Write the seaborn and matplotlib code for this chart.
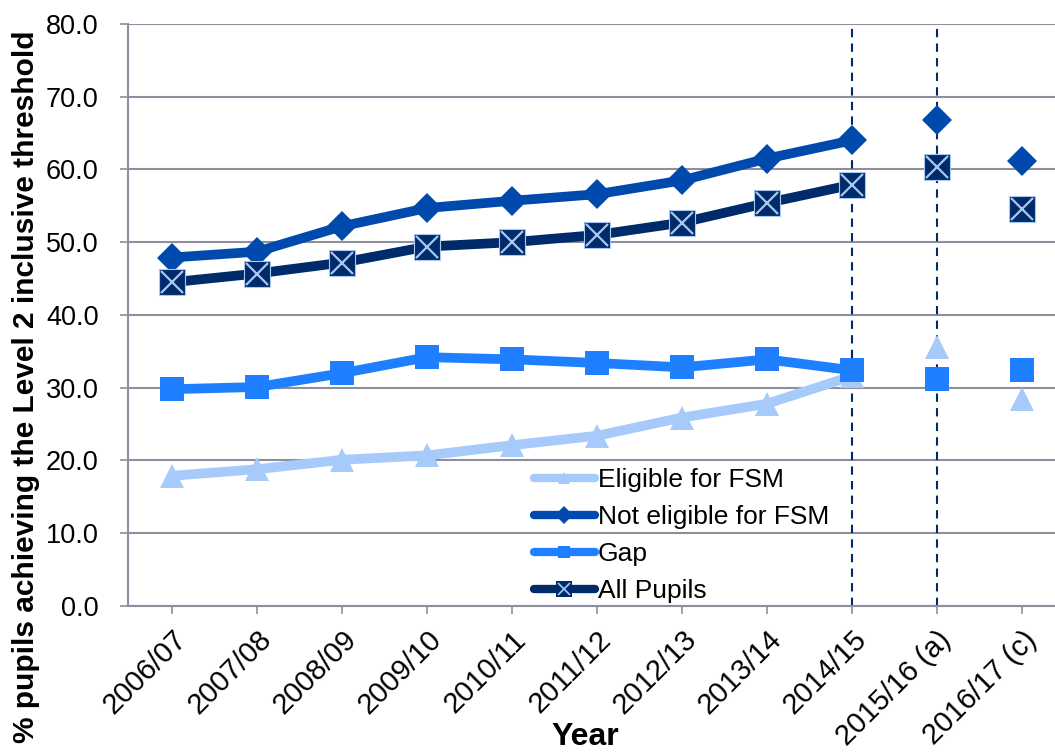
import matplotlib
matplotlib.use("Agg")
import matplotlib.pyplot as plt
import seaborn as sns
import pandas as pd
import numpy as np
from matplotlib.lines import Line2D
from matplotlib.legend_handler import HandlerTuple

years = ["2006/07", "2007/08", "2008/09", "2009/10", "2010/11", "2011/12",
         "2012/13", "2013/14", "2014/15", "2015/16 (a)", "2016/17 (c)"]
eligible = [17.9, 18.8, 20.1, 20.7, 22.1, 23.4, 25.9, 27.8, 31.6, 35.6, 28.5]
not_eligible = [47.9, 48.7, 52.2, 54.7, 55.7, 56.6, 58.5, 61.5, 64.0, 66.8, 61.1]
gap = [29.8, 30.1, 32.0, 34.2, 33.9, 33.4, 32.8, 33.9, 32.4, 31.2, 32.5]
all_pupils = [44.5, 45.7, 47.2, 49.4, 50.0, 51.0, 52.7, 55.4, 57.9, 60.4, 54.6]
n_joined = 9  # first nine years are joined by a line

C_EL = "#A6CBFA"
C_NE = "#004AAD"
C_GAP = "#1F80FF"
C_ALL = "#002B6B"
C_X = "#A9C8F0"
GRID = "#8E8E9E"

sns.set_theme(style="white")
plt.rcParams["font.family"] = ["Liberation Sans", "DejaVu Sans"]
plt.rcParams["text.color"] = "black"
plt.rcParams["xtick.color"] = GRID
plt.rcParams["ytick.color"] = GRID
plt.rcParams["xtick.labelcolor"] = "black"
plt.rcParams["ytick.labelcolor"] = "black"
plt.rcParams["axes.labelcolor"] = "black"

fig = plt.figure(figsize=(10.55, 7.53), dpi=100)
ax = fig.add_axes([0.1213, 0.1952, 0.8877, 0.773])

x = np.arange(len(years))
series = [
    ("Eligible for FSM", eligible, C_EL, "^", 17),
    ("Not eligible for FSM", not_eligible, C_NE, "D", 15),
    ("Gap", gap, C_GAP, "s", 17),
    ("All Pupils", all_pupils, C_ALL, "s", 18.5),
]

for name, vals, col, mk, ms in series:
    df = pd.DataFrame({"x": x[:n_joined], "y": vals[:n_joined]})
    sns.lineplot(data=df, x="x", y="y", ax=ax, color=col, linewidth=7,
                 marker=mk, markersize=ms, markeredgewidth=0, zorder=3)
    df2 = pd.DataFrame({"x": x[n_joined:], "y": vals[n_joined:]})
    ax.plot(df2["x"], df2["y"], linestyle="none", marker=mk, markersize=ms,
            color=col, markeredgewidth=0, zorder=3)
    if name == "All Pupils":
        ax.plot(x, vals, linestyle="none", marker="x", markersize=ms * 0.85,
                markeredgewidth=1.6, color=C_X, zorder=4)
        ax.plot(x, vals, linestyle="none", marker="s", markersize=ms,
                markerfacecolor="none", markeredgewidth=0.8, markeredgecolor=C_X, zorder=4)

for xv in (8, 9):
    ax.axvline(xv, color=C_ALL, linestyle=(0, (4, 3)), linewidth=1.5, zorder=2)

ax.set_xlim(-0.52, 10.5)
ax.set_ylim(0, 80)
ax.set_yticks(np.arange(0, 81, 10))
ax.set_yticklabels([f"{v:.1f}" for v in np.arange(0, 81, 10)], fontsize=19.5)
ax.set_xticks(x)
ax.set_xticklabels(years, rotation=45, ha="right", rotation_mode="anchor", fontsize=21)
ax.yaxis.grid(True, color=GRID, linewidth=1.5)
ax.set_axisbelow(True)
for s in ["top", "right"]:
    ax.spines[s].set_visible(False)
for s in ["left", "bottom"]:
    ax.spines[s].set_color(GRID)
    ax.spines[s].set_linewidth(1.5)
ax.tick_params(axis="both", which="both", length=6, width=1.2,
               direction="out", bottom=True, left=True)
ax.tick_params(axis="y", pad=15)
ax.tick_params(axis="x", pad=8)
ax.set_xlabel("Year", fontsize=23, fontweight="bold")
ax.xaxis.set_label_coords(0.488, -0.20)
ax.set_ylabel("% pupils achieving the Level 2 inclusive threshold",
              fontsize=21.5, fontweight="bold")
ax.yaxis.set_label_coords(-0.094, 0.377)

handles = []
for name, vals, col, mk, ms in series:
    handles.append(Line2D([0], [0], color=col, linewidth=6, marker=mk,
                          markersize=9, markeredgewidth=0,
                          solid_capstyle="round"))
handles[3] = (Line2D([0], [0], color=C_ALL, linewidth=6, marker="s", markersize=11,
                     markeredgewidth=0, solid_capstyle="round"),
              Line2D([0], [0], linestyle="none", marker="x", markersize=9,
                     markeredgewidth=1.2, color=C_X))
leg = ax.legend(handles, [s[0] for s in series], loc="lower left",
                bbox_to_anchor=(0.4335, 0.005), frameon=False, fontsize=19,
                borderpad=0, borderaxespad=0,
                handlelength=2.3, handletextpad=0.12, labelspacing=0.49,
                handler_map={tuple: HandlerTuple(ndivide=1, pad=0)})

fig.savefig("out.png", dpi=100)
